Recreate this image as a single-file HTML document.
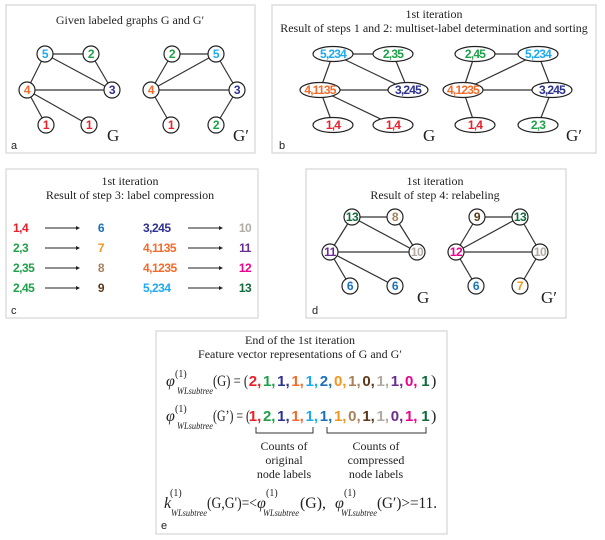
<!DOCTYPE html>
<html><head><meta charset="utf-8"><style>
body{margin:0;background:#fff;}
svg{display:block;}
.ttl{font-family:"Liberation Serif",serif;font-size:12px;fill:#222;text-anchor:middle;}
.nd{font-family:"Liberation Sans Narrow","Liberation Sans",sans-serif;font-weight:bold;font-size:12px;text-anchor:middle;letter-spacing:-0.5px;}
.ndb{font-family:"Liberation Sans Narrow","Liberation Sans",sans-serif;font-weight:bold;font-size:12px;text-anchor:middle;letter-spacing:-0.8px;}
.gl{font-family:"Liberation Serif",serif;font-size:17px;fill:#222;}
.pl{font-family:"Liberation Sans",sans-serif;font-size:11px;fill:#222;}
.eq{font-family:"Liberation Serif",serif;fill:#222;}
.vec{font-family:"Liberation Sans",sans-serif;font-weight:bold;font-size:15px;text-anchor:middle;}
</style></head><body>
<svg id="fig" width="605" height="540" viewBox="0 0 605 540" xmlns="http://www.w3.org/2000/svg">
<g fill="none" stroke="#d6d6d6" stroke-width="1.2">
<rect x="6" y="5" width="249" height="148"/>
<rect x="272" y="5" width="324" height="148"/>
<rect x="6" y="169" width="252" height="149"/>
<rect x="306" y="169" width="260" height="149"/>
<rect x="156" y="331" width="291" height="203"/>
</g>
<text class="ttl" x="130" y="24">Given labeled graphs G and G′</text>
<text class="ttl" x="434" y="18">1st iteration</text>
<text class="ttl" x="434" y="32">Result of steps 1 and 2: multiset-label determination and sorting</text>
<text class="ttl" x="130" y="185">1st iteration</text>
<text class="ttl" x="130" y="199">Result of step 3: label compression</text>
<text class="ttl" x="435" y="185">1st iteration</text>
<text class="ttl" x="435" y="199">Result of step 4: relabeling</text>
<text class="ttl" x="300" y="344">End of  the 1st iteration</text>
<text class="ttl" x="300" y="358">Feature vector representations of G and G′</text>
<text class="pl" x="11" y="149">a</text>
<text class="pl" x="279" y="149">b</text>
<text class="pl" x="11" y="314">c</text>
<text class="pl" x="312" y="314">d</text>
<text class="pl" x="161" y="529">e</text>
<g id="graphs"></g>
<g id="comp"></g>
<g id="eqs">
<g>
<text class="eq" x="166" y="386" style="font-size:16px;font-style:italic">φ</text>
<text class="eq" x="175" y="377" style="font-size:10px">(1)</text>
<text class="eq" x="177" y="394" style="font-size:9px;font-style:italic" textLength="36" lengthAdjust="spacingAndGlyphs">WLsubtree</text>
<text class="eq" x="213" y="386" style="font-size:16px" textLength="35" lengthAdjust="spacingAndGlyphs">(G) = (</text>
</g>
<g>
<text class="eq" x="166" y="421" style="font-size:16px;font-style:italic">φ</text>
<text class="eq" x="175" y="412" style="font-size:10px">(1)</text>
<text class="eq" x="177" y="429" style="font-size:9px;font-style:italic" textLength="36" lengthAdjust="spacingAndGlyphs">WLsubtree</text>
<text class="eq" x="213" y="421" style="font-size:16px" textLength="37" lengthAdjust="spacingAndGlyphs">(G’) = (</text>
</g>
<text class="eq" x="431" y="386" style="font-size:16px">)</text>
<text class="eq" x="431" y="421" style="font-size:16px">)</text>
<g id="vecs"></g>
<path d="M256,427 V433 H313 V427 M327,427 V433 H426 V427" fill="none" stroke="#333" stroke-width="1"/>
<g class="ttl" font-size="12">
<text x="284" y="450">Counts of</text>
<text x="284" y="464">original</text>
<text x="284" y="478">node labels</text>
<text x="376" y="450">Counts of</text>
<text x="376" y="464">compressed</text>
<text x="376" y="478">node labels</text>
</g>
<g>
<text class="eq" x="164" y="508" style="font-size:16px;font-style:italic">k</text>
<text class="eq" x="170" y="496" style="font-size:10px">(1)</text>
<text class="eq" x="171" y="516" style="font-size:9px;font-style:italic" textLength="36" lengthAdjust="spacingAndGlyphs">WLsubtree</text>
<text class="eq" x="207" y="508" style="font-size:16px" textLength="50" lengthAdjust="spacingAndGlyphs">(G,G')=&lt;</text>
<text class="eq" x="257" y="508" style="font-size:16px;font-style:italic">φ</text>
<text class="eq" x="266" y="496" style="font-size:10px">(1)</text>
<text class="eq" x="263" y="516" style="font-size:9px;font-style:italic" textLength="36" lengthAdjust="spacingAndGlyphs">WLsubtree</text>
<text class="eq" x="300" y="508" style="font-size:16px" textLength="26" lengthAdjust="spacingAndGlyphs">(G),</text>
<text class="eq" x="335" y="508" style="font-size:16px;font-style:italic">φ</text>
<text class="eq" x="344" y="496" style="font-size:10px">(1)</text>
<text class="eq" x="341" y="516" style="font-size:9px;font-style:italic" textLength="36" lengthAdjust="spacingAndGlyphs">WLsubtree</text>
<text class="eq" x="377" y="508" style="font-size:16px" textLength="60" lengthAdjust="spacingAndGlyphs">(G′)&gt;=11.</text>
</g>
</g>
</svg>
<script>
const NS="http://www.w3.org/2000/svg";
const C={red:"#e8202a",green:"#1fa04a",navy:"#2e3191",orange:"#f26b2a",cyan:"#1eaaf0",blue:"#1a72bb",org7:"#f7941d",tan:"#a6825a",brown:"#5b3a1a",gray:"#b0aaa4",purple:"#6a2c91",mag:"#ec008c",dg:"#0f6b3a"};
const edgesG=[[0,1],[0,2],[0,3],[1,3],[2,3],[2,4],[2,5]];
const edgesGp=[[0,1],[1,2],[0,2],[1,3],[2,3],[3,5],[2,4]];
const aG=[["5","cyan"],["2","green"],["4","orange"],["3","navy"],["1","red"],["1","red"]];
const aGp=[["2","green"],["5","cyan"],["4","orange"],["3","navy"],["1","red"],["2","green"]];
const bG=[["5,234","cyan"],["2,35","green"],["4,1135","orange"],["3,245","navy"],["1,4","red"],["1,4","red"]];
const bGp=[["2,45","green"],["5,234","cyan"],["4,1235","orange"],["3,245","navy"],["1,4","red"],["2,3","green"]];
const dG=[["13","dg"],["8","tan"],["11","purple"],["10","gray"],["6","blue"],["6","blue"]];
const dGp=[["9","brown"],["13","dg"],["12","mag"],["10","gray"],["6","blue"],["7","org7"]];
const compFrom=[["1,4","red"],["2,3","green"],["2,35","green"],["2,45","green"],["3,245","navy"],["4,1135","orange"],["4,1235","orange"],["5,234","cyan"]];
const compTo=[["6","blue"],["7","org7"],["8","tan"],["9","brown"],["10","gray"],["11","purple"],["12","mag"],["13","dg"]];
const vecG=[2,1,1,1,1,2,0,1,0,1,1,0,1];
const vecGp=[1,2,1,1,1,1,1,0,1,1,0,1,1];
const vecColors=["red","green","navy","orange","cyan","blue","org7","tan","brown","gray","purple","mag","dg"];

function mk(tag,attrs,parent){const e=document.createElementNS(NS,tag);for(const k in attrs)e.setAttribute(k,attrs[k]);parent.appendChild(e);return e;}
const gr=document.getElementById("graphs");
function drawGraph(labels,edges,xs,ys,ellipse,name,gl,glx,gly){
  const g=mk("g",{},gr);
  
  
  const yy=[ys[0],ys[0],ys[1],ys[1],ys[2],ys[2]];
  const P=xs.map((x,i)=>[x,yy[i]]);
  edges.forEach(e=>{const l=mk("line",{x1:P[e[0]][0],y1:P[e[0]][1],x2:P[e[1]][0],y2:P[e[1]][1],stroke:"#333","stroke-width":1.2},g);
    
    });
  labels.forEach((lb,i)=>{
    const n=mk("g",{},g);
    
    
    if(ellipse) mk("ellipse",{cx:P[i][0],cy:P[i][1],rx:20,ry:7.5,fill:"#fff",stroke:"#222","stroke-width":1.2},n);
    else mk("circle",{cx:P[i][0],cy:P[i][1],r:8,fill:"#fff",stroke:"#222","stroke-width":1.2},n);
    const t=mk("text",{x:P[i][0],y:P[i][1]+4,"class":ellipse?"ndb":"nd",fill:C[lb[1]]},n);t.textContent=lb[0];
  });
  const t=mk("text",{x:glx,y:gly,"class":"gl"},g);t.textContent=gl;
  
  
}
drawGraph(aG,edgesG,[45,91,27,112,46,89],[54,90,125],false,"graph-g-original","G",107,141);
drawGraph(aGp,edgesGp,[172,216,151,237,171,216],[54,90,125],false,"graph-gprime-original","G′",233,141);
drawGraph(bG,edgesG,[333,393,320,408,333,393],[54,90,125],true,"graph-g-multiset","G",423,141);
drawGraph(bGp,edgesGp,[475,538,463,552,475,538],[54,90,125],true,"graph-gprime-multiset","G′",566,141);
drawGraph(dG,edgesG,[352,395,330,417,350,395],[217,252,286],false,"graph-g-relabeled","G",417,303);
drawGraph(dGp,edgesGp,[477,520,456,540,476,520],[217,252,286],false,"graph-gprime-relabeled","G′",541,303);

const cp=document.getElementById("comp");
compFrom.forEach((f,i)=>{
  const col=Math.floor(i/4),row=i%4,y=232+row*20,bx=col?143:13;
  const r=mk("g",{},cp);
  
  
  const a=mk("text",{x:bx,y:y,"class":"nd",fill:C[f[1]],"style":"text-anchor:start"},r);a.textContent=f[0];
  const ax=col?188:45;
  mk("line",{x1:ax,y1:y-4,x2:ax+33,y2:y-4,stroke:"#222","stroke-width":1},r);
  mk("path",{d:`M${ax+35},${y-4} l-4,-2 v4 z`,fill:"#222"},r);
  const b=mk("text",{x:col?245:101,y:y,"class":"nd",fill:C[compTo[i][1]]},r);b.textContent=compTo[i][0];
});

const vg=document.getElementById("vecs");
const vx0=255,vdx=14.2;
function drawVec(vals,y,name){
  vals.forEach((v,i)=>{
    const t=mk("text",{x:vx0+i*vdx,y:y,"class":"vec",fill:C[vecColors[i]]},vg);
    t.textContent=v+(i<vals.length-1?",":"");
    
    
  });
}
drawVec(vecG,386,"phi-g");
drawVec(vecGp,421,"phi-gprime");
</script>
</body></html>
